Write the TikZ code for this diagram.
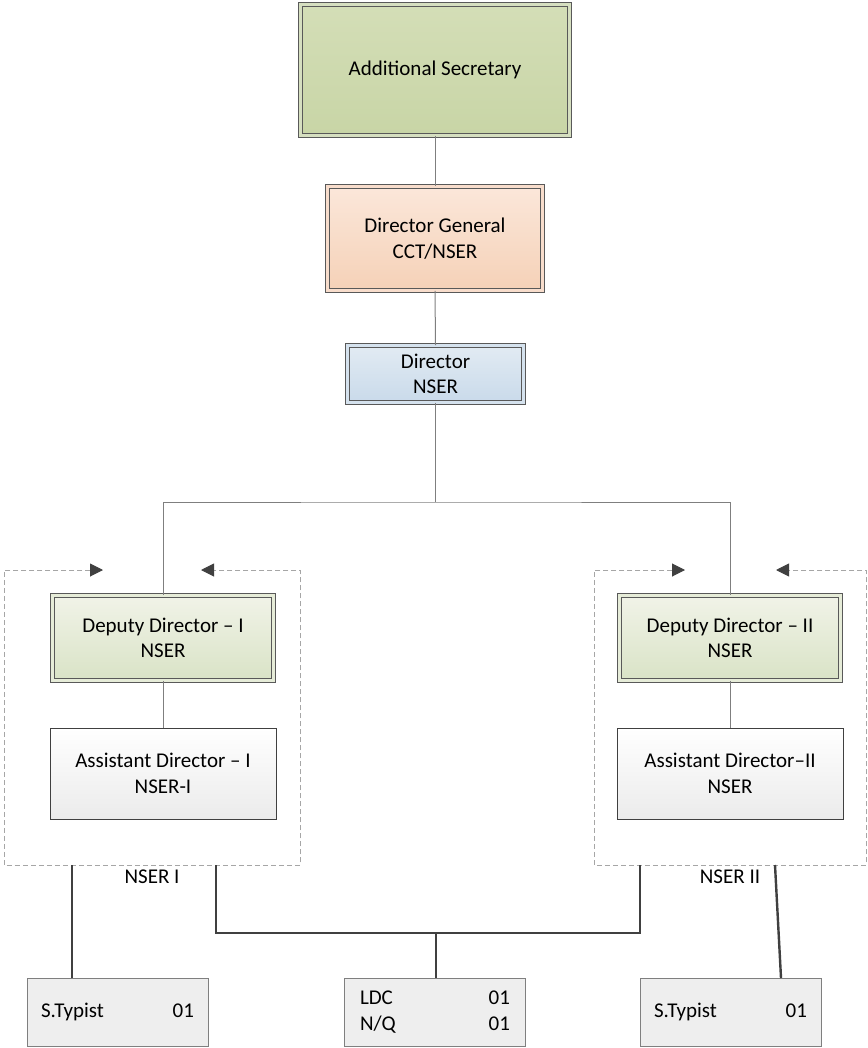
\documentclass[tikz,border=0pt]{standalone}
\usepackage{fontspec}
\setmainfont{Carlito}
\usetikzlibrary{arrows.meta,calc}
\definecolor{bordc}{HTML}{595959}
\definecolor{linec}{HTML}{7F7F7F}
\definecolor{thickc}{HTML}{404040}
\definecolor{dashc}{HTML}{A6A6A6}
\definecolor{asband}{HTML}{D6DFC0}
\definecolor{astop}{HTML}{D4DEB7}
\definecolor{asbot}{HTML}{C8D5A6}
\definecolor{dgband}{HTML}{F8DDCC}
\definecolor{dgtop}{HTML}{FBE7DA}
\definecolor{dgbot}{HTML}{F5D1B7}
\definecolor{dirband}{HTML}{D5E2EE}
\definecolor{dirtop}{HTML}{E2EBF3}
\definecolor{dirbot}{HTML}{C9DAEA}
\definecolor{ddband}{HTML}{E6ECD8}
\definecolor{ddtop}{HTML}{F1F3E8}
\definecolor{ddbot}{HTML}{D9E3C6}
\definecolor{adbot}{HTML}{EBEBEB}
\definecolor{botfill}{HTML}{EEEEEE}
\tikzset{
  txt/.style={font=\fontsize{21}{25.5}\selectfont, align=center, text=black},
  dbox/.style={txt, draw=bordc, line width=0.8pt, double distance=3.5pt, inner sep=0pt},
  asbox/.style={dbox, double=asband, top color=astop, bottom color=asbot},
  dgbox/.style={dbox, double=dgband, top color=dgtop, bottom color=dgbot},
  dirbox/.style={dbox, double=dirband, top color=dirtop, bottom color=dirbot},
  ddbox/.style={dbox, double=ddband, top color=ddtop, bottom color=ddbot, minimum width=221pt, minimum height=85pt},
  adbox/.style={txt, draw=thickc, line width=0.9pt, top color=white, bottom color=adbot, minimum width=226pt, minimum height=91pt, inner sep=0pt},
  botbox/.style={txt, draw=linec, line width=1pt, fill=botfill, minimum width=181pt, minimum height=68pt, inner sep=0pt},
  conn/.style={draw=linec, line width=1pt},
  thick conn/.style={draw=thickc, line width=2.4pt},
  frame/.style={draw=dashc, line width=1pt, dash pattern=on 5pt off 3pt,
     {Triangle[length=13pt,width=13pt,fill=thickc,color=thickc]}-{Triangle[length=13pt,width=13pt,fill=thickc,color=thickc]}}
}
\begin{document}
\begin{tikzpicture}[x=1pt,y=-1pt]
\useasboundingbox (0,0) rectangle (867,1048);
% main boxes
\node[asbox, minimum width=269pt, minimum height=131pt] (as) at (435,70) {Additional Secretary};
\node[dgbox, minimum width=215pt, minimum height=104pt] (dg) at (435,238.5) {Director General\\CCT/NSER};
\node[dirbox, minimum width=176pt, minimum height=57pt] (dir) at (435.5,374) {Director\\NSER};
\node[ddbox] (dd1) at (163,638) {Deputy Director -- I\\NSER};
\node[ddbox] (dd2) at (730,638) {Deputy Director -- II\\NSER};
\node[adbox] (ad1) at (163,773.5) {Assistant Director -- I\\NSER-I};
\node[adbox] (ad2) at (730,773.5) {Assistant Director--II\\NSER};
% bottom boxes
\node[botbox] (st1) at (117.5,1012) {\makebox[153pt]{S.Typist\hfill 01}};
\node[botbox] (ldc) at (435,1012) {\makebox[150pt]{LDC\hfill 01}\\[1pt]\makebox[150pt]{N/Q\hfill 01}};
\node[botbox] (st2) at (730.5,1012) {\makebox[153pt]{S.Typist\hfill 01}};
% labels
\node[txt] (l1) at (152,877) {NSER I};
\node[txt] (l2) at (730,877) {NSER II};
% upper connectors
\coordinate (j) at (435.5,502);
\draw[conn] (as.south) -- (dg.north);
\draw[conn] (dg.south) -- (dir.north);
\draw[conn] (dir.south) -- (j);
\draw[conn] (dd1.north) |- (j) -| (dd2.north);
\draw[conn] (dd1.south) -- (ad1.north);
\draw[conn] (dd2.south) -- (ad2.north);
% dashed frames
\coordinate (f1a) at (103,570);
\coordinate (f1b) at (201,570);
\coordinate (f2a) at (685,570);
\coordinate (f2b) at (776,570);
\draw[frame] (f1a) -- (4,570) -- (4,865) -- (300,865) -- (300,570) -- (f1b);
\draw[frame] (f2a) -- (594,570) -- (594,865) -- (866,865) -- (866,570) -- (f2b);
% thick lower connectors
\coordinate (t1) at (72,865);
\draw[thick conn] (t1) -- (t1 |- st1.north);
\coordinate (m1) at (216,865);
\coordinate (m2) at (640,865);
\coordinate (mj) at (436,933);
\draw[thick conn] (m1) |- (mj) -| (m2);
\draw[thick conn] (mj) -- (mj |- ldc.north);
\coordinate (t2) at (775,865);
\coordinate (t2b) at (781,978);
\draw[thick conn] (t2) -- (t2b);
\end{tikzpicture}
\end{document}
